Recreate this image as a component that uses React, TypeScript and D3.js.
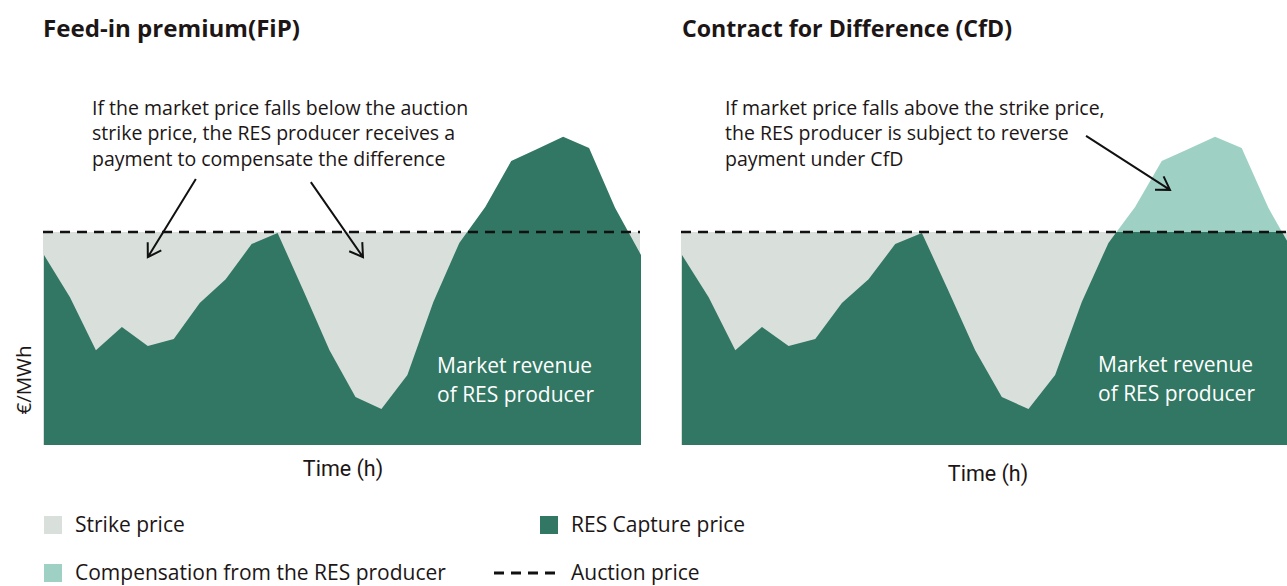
import React from "react";
import * as d3 from "d3";

// ---- data ----
const hours = d3.range(24); // time (h) index
const capturePrice = [61.3, 47.7, 30.6, 38.1, 31.9, 34.2, 45.8, 53.5, 64.8, 68.4, 49.7, 30.6, 15.5, 11.6, 22.6, 46.1, 65.2, 76.8, 91.6, 95.5, 99.4, 95.8, 76.5, 61.3];
const strikePrice = 68.7;
const titles = ["Feed-in premium(FiP)", "Contract for Difference (CfD)"];
const notesFiP = [
  "If the market price falls below the auction",
  "strike price, the RES producer receives a",
  "payment to compensate the difference",
];
const notesCfD = [
  "If market price falls above the strike price,",
  "the RES producer is subject to reverse",
  "payment under CfD",
];
const revenueLabel = ["Market revenue", "of RES producer"];
// arrows in data coordinates: [fromHour, fromValue, toHour, toValue]
const arrowsFiP = [
  [5.85, 85.8, 4.0, 60.6],
  [10.28, 84.8, 12.29, 60.6],
];
const arrowsCfD = [[15.16, 99.7, 18.31, 82.3]];
const legendItems = [
  { label: "Strike price", kind: "gray" },
  { label: "RES Capture price", kind: "green" },
  { label: "Compensation from the RES producer", kind: "teal" },
  { label: "Auction price", kind: "dash" },
];

const C = {
  green: "#317763",
  gray: "#d9dfdb",
  teal: "#9ed1c4",
  text: "#1c1616",
};
const FONT = "'Open Sans', sans-serif";

const y = d3.scaleLinear().domain([0, 100]).range([445, 135]);
const xL = d3.scaleLinear().domain([0, 23]).range([44, 641]);
const xR = d3.scaleLinear().domain([0, 23]).range([682, 1295]);

function arrowPath(x1: number, y1: number, x2: number, y2: number) {
  const a = Math.atan2(y1 - y2, x1 - x2);
  const L = 15;
  const s = (32 * Math.PI) / 180;
  const h1 = [x2 + L * Math.cos(a + s), y2 + L * Math.sin(a + s)];
  const h2 = [x2 + L * Math.cos(a - s), y2 + L * Math.sin(a - s)];
  return `M${x1},${y1}L${x2},${y2}M${h1[0]},${h1[1]}L${x2},${y2}L${h2[0]},${h2[1]}`;
}

function Panel({ x, cfd, id }: { x: d3.ScaleLinear<number, number>; cfd: boolean; id: string }) {
  const area = d3
    .area<number>()
    .x((_, i) => x(hours[i]))
    .y0(y(0))
    .y1((d) => y(d));
  const strikeArea = d3
    .area<number>()
    .x((h) => x(h))
    .y0(y(0))
    .y1(y(strikePrice));
  const ext = [hours[0], hours[hours.length - 1]];
  const sy = y(strikePrice);
  const x0 = x(ext[0]) - 1;
  const x1 = x(ext[1]) - 1;
  return (
    <g>
      <defs>
        <clipPath id={`${id}-below`}>
          <rect x={0} y={sy} width={1300} height={600} />
        </clipPath>
        <clipPath id={`${id}-above`}>
          <rect x={0} y={0} width={1300} height={sy} />
        </clipPath>
      </defs>
      <path d={strikeArea([ext[0] - 1 / 26, ext[1] - 1 / 26]) || ""} fill={C.gray} />
      {cfd ? (
        <>
          <path d={area(capturePrice) || ""} fill={C.teal} clipPath={`url(#${id}-above)`} />
          <path d={area(capturePrice) || ""} fill={C.green} clipPath={`url(#${id}-below)`} />
        </>
      ) : (
        <path d={area(capturePrice) || ""} fill={C.green} />
      )}
      <line x1={x0} x2={x1} y1={sy} y2={sy} stroke="#111" strokeWidth={2.6} strokeDasharray="10 7" />
    </g>
  );
}

export default function App() {
  return (
    <svg width={1287} height={586} style={{ position: "absolute", left: 0, top: 0, background: "#fff" }}>
      <Panel x={xL} cfd={false} id="fip" />
      <Panel x={xR} cfd={true} id="cfd" />

      {/* titles */}
      <text x={43} y={37} fontFamily={FONT} fontWeight="bold" fontSize={24} fill={C.text} textLength={257} lengthAdjust="spacingAndGlyphs">{titles[0]}</text>
      <text x={682} y={37} fontFamily={FONT} fontWeight="bold" fontSize={24} fill={C.text} textLength={330} lengthAdjust="spacingAndGlyphs">{titles[1]}</text>

      {/* annotations */}
      {notesFiP.map((t, i) => (
        <text key={"a" + i} x={92} y={114.5 + i * 25.7} fontFamily={FONT} fontSize={19.5} fill={C.text}>{t}</text>
      ))}
      {notesCfD.map((t, i) => (
        <text key={"b" + i} x={725} y={114.5 + i * 25.7} fontFamily={FONT} fontSize={19.5} fill={C.text}>{t}</text>
      ))}
      {arrowsFiP.map((a, i) => (
        <path key={"af" + i} d={arrowPath(xL(a[0]), y(a[1]), xL(a[2]), y(a[3]))} fill="none" stroke="#111" strokeWidth={2} />
      ))}
      {arrowsCfD.map((a, i) => (
        <path key={"ac" + i} d={arrowPath(xR(a[0]), y(a[1]), xR(a[2]), y(a[3]))} fill="none" stroke="#111" strokeWidth={2} />
      ))}

      {/* market revenue labels */}
      {revenueLabel.map((t, i) => (
        <text key={"r" + i} x={437} y={373 + i * 28.5} fontFamily={FONT} fontSize={21} fill="#fff">{t}</text>
      ))}
      {revenueLabel.map((t, i) => (
        <text key={"s" + i} x={1098} y={372 + i * 28.5} fontFamily={FONT} fontSize={21} fill="#fff">{t}</text>
      ))}

      {/* axis labels */}
      <text transform="translate(31,380) rotate(-90)" textAnchor="middle" fontFamily={FONT} fontSize={20.5} fill={C.text}>€/MWh</text>
      <text x={343} y={476} textAnchor="middle" fontFamily="Roboto, sans-serif" fontSize={21.5} fill={C.text}>Time (h)</text>
      <text x={988} y={481} textAnchor="middle" fontFamily="Roboto, sans-serif" fontSize={21.5} fill={C.text}>Time (h)</text>

      {/* legend */}
      {legendItems.map((it, i) => {
        const col = i % 2;
        const row = Math.floor(i / 2);
        const lx = col === 0 ? 44 : 540;
        const ly = 516 + row * 48;
        const tx = col === 0 ? 75 : 571;
        return (
          <g key={"l" + i}>
            {it.kind === "dash" ? (
              <line x1={494} x2={558} y1={ly + 9} y2={ly + 9} stroke="#111" strokeWidth={3} strokeDasharray="10 7" />
            ) : (
              <rect x={lx} y={ly} width={18} height={18} fill={it.kind === "gray" ? C.gray : it.kind === "green" ? C.green : C.teal} />
            )}
            <text x={tx} y={ly + 16} fontFamily={FONT} fontSize={21} fill={C.text}>{it.label}</text>
          </g>
        );
      })}
    </svg>
  );
}
